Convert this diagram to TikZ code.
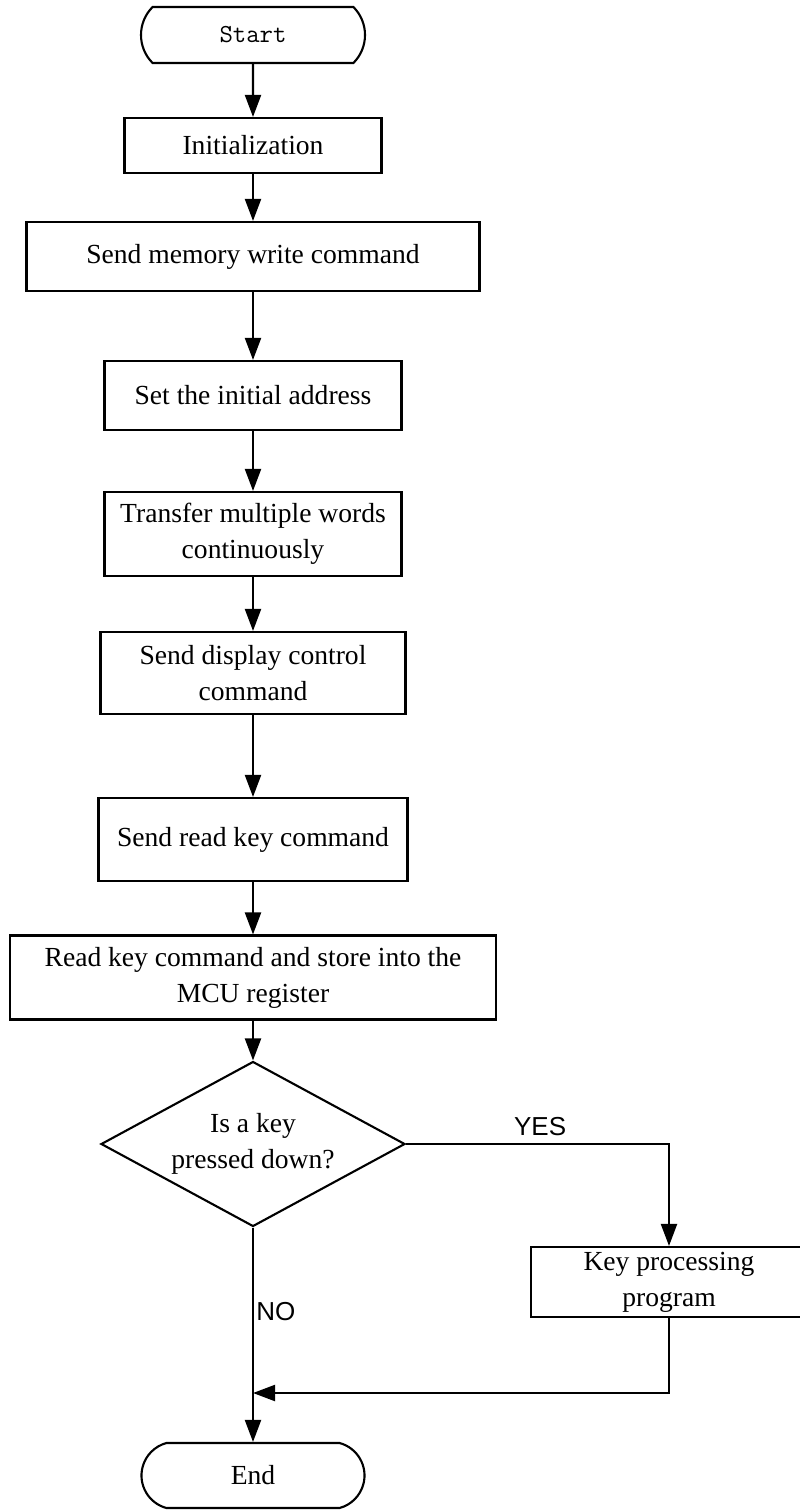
\documentclass[tikz,border=0pt]{standalone}
\usepackage{fontspec}
\setmainfont{Liberation Serif}
\newfontfamily\labelfont{Liberation Sans}
\usetikzlibrary{arrows.meta,shapes.geometric,shapes.misc}
\tikzset{
    box/.style={draw, rectangle, line width=1.2pt, align=center, inner sep=0pt, font=\fontsize{15.7}{20.5}\selectfont},
    terminal/.style={draw, rounded rectangle, line width=1.2pt, inner sep=0pt},
    decision/.style={draw, diamond, aspect=1.84, line width=1.2pt, align=center, inner sep=0pt, font=\fontsize{15.7}{20.5}\selectfont},
    flow/.style={line width=1.2pt, -{Triangle[length=0.44cm,width=0.32cm]}},
    yesno/.style={font=\labelfont\fontsize{14.8}{17}\selectfont}
}
\begin{document}
\begin{tikzpicture}
        \useasboundingbox (0,0) rectangle (16,-30.2);
        \node[terminal, minimum width=4.48cm, minimum height=1.12cm, rounded rectangle arc length=90, font=\ttfamily\fontsize{14.8}{17}\selectfont] (start) at (5.06,-0.70) {Start};
        \node[box, minimum width=5.14cm, minimum height=1.10cm] (init) at (5.06,-2.91) {Initialization};
        \node[box, minimum width=9.06cm, minimum height=1.38cm] (memw) at (5.06,-5.13) {Send memory write command};
        \node[box, minimum width=5.94cm, minimum height=1.38cm] (addr) at (5.06,-7.91) {Set the initial address};
        \node[box, minimum width=5.94cm, minimum height=1.68cm] (xfer) at (5.06,-10.68) {Transfer multiple words\\continuously};
        \node[box, minimum width=6.10cm, minimum height=1.64cm] (disp) at (5.06,-13.46) {Send display control\\command};
        \node[box, minimum width=6.18cm, minimum height=1.66cm] (rdkey) at (5.06,-16.79) {Send read key command};
        \node[box, minimum width=9.72cm, minimum height=1.68cm] (store) at (5.06,-19.55) {Read key command and store into the\\MCU register};
        \node[decision, minimum width=6.08cm, minimum height=3.30cm] (keyq) at (5.06,-22.88) {Is a key\\pressed down?};
        \node[box, minimum width=5.52cm, minimum height=1.40cm] (keyproc) at (13.38,-25.64) {Key processing\\program};
        \node[terminal, minimum width=4.46cm, minimum height=1.30cm, rounded rectangle arc length=150, font=\fontsize{15.7}{20.5}\selectfont] (end) at (5.06,-29.51) {End};
        \coordinate (join) at (5.06,-27.86);
        \draw[flow] (start) -- (init);
        \draw[flow] (init) -- (memw);
        \draw[flow] (memw) -- (addr);
        \draw[flow] (addr) -- (xfer);
        \draw[flow] (xfer) -- (disp);
        \draw[flow] (disp) -- (rdkey);
        \draw[flow] (rdkey) -- (store);
        \draw[flow] (store) -- (keyq);
        \draw[flow] (keyq.east) -| node[pos=0.255, above, yshift=1pt, yesno] {YES} (keyproc.north);
        \draw[flow] (keyproc.south) |- (join);
        \draw[flow] (keyq.south) -- node[pos=0.39, right, xshift=-2pt, yesno] {NO} (end.north);
\end{tikzpicture}
\end{document}
